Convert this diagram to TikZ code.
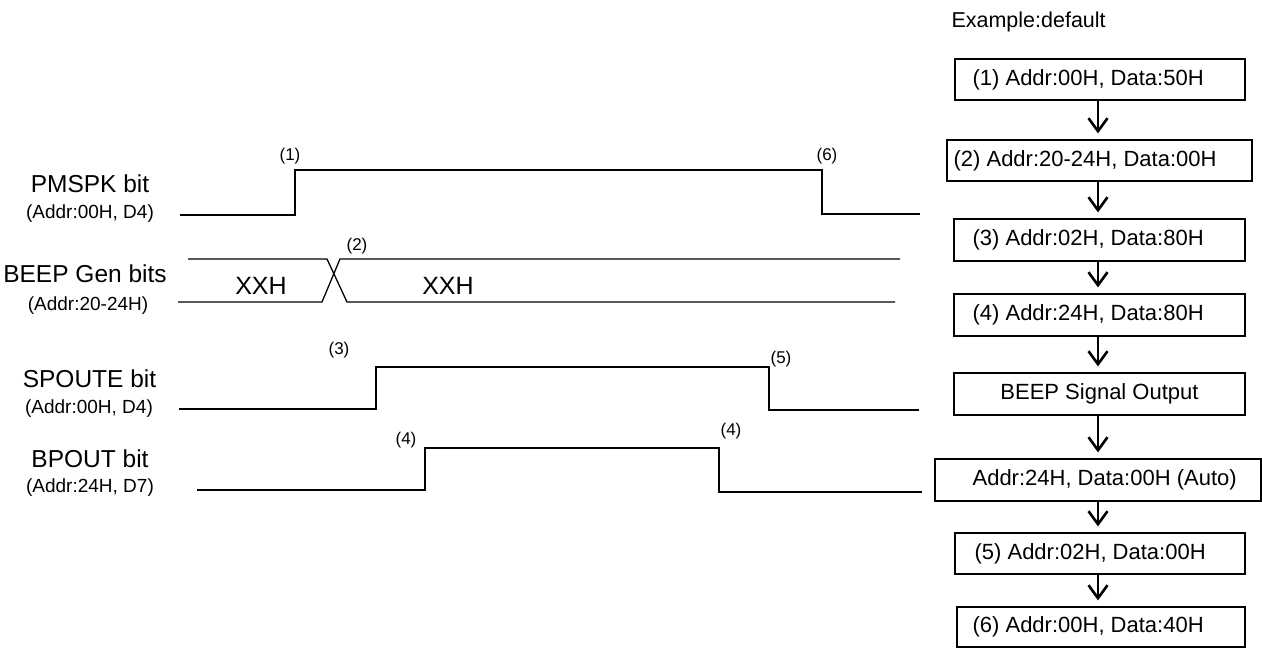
\documentclass[tikz,border=0pt]{standalone}
\usepackage{fontspec}
\setmainfont{Liberation Sans}
\usetikzlibrary{arrows.meta}
\tikzset{
  wire/.style={line width=1.3pt, line join=miter},
  flowbox/.style={draw, line width=1.2pt, rectangle, inner sep=0pt},
  flowarrow/.style={line width=2.6pt, -{Straight Barb[length=13pt,width=19pt]}, shorten >=6pt},
  siglabel/.style={anchor=base, font=\fontsize{24.5}{28}\selectfont},
  sublabel/.style={anchor=base, font=\fontsize{19}{22}\selectfont},
  marklabel/.style={anchor=base, font=\fontsize{17}{20}\selectfont},
  valuelabel/.style={anchor=base, font=\fontsize{25}{28}\selectfont},
  boxtext/.style={anchor=west, inner sep=0pt, font=\fontsize{22}{25}\selectfont},
}
\begin{document}
\begin{tikzpicture}[x=1pt, y=-1pt]
\useasboundingbox (0,0) rectangle (1262,648);

% ---------- signal names ----------
\node[siglabel] (n1) at (90,192) {PMSPK bit};
\node[sublabel] (s1) at (90,218) {(Addr:00H, D4)};
\node[siglabel] (n2) at (85,282) {BEEP Gen bits};
\node[sublabel] (s2) at (88,310) {(Addr:20-24H)};
\node[siglabel] (n3) at (89.5,387) {SPOUTE bit};
\node[sublabel] (s3) at (89,413) {(Addr:00H, D4)};
\node[siglabel] (n4) at (90,467) {BPOUT bit};
\node[sublabel] (s4) at (90,492) {(Addr:24H, D7)};

% ---------- waveforms ----------
\draw[wire] (180,215) -- (295,215) -- (295,170) -- (822,170) -- (822,214) -- (920,214);
\draw[wire] (188,259) -- (327,259) -- (347,302) -- (895,302);
\draw[wire] (178,302) -- (322,302) -- (340,259) -- (900,259);
\draw[wire] (179,409) -- (376,409) -- (376,367) -- (769,367) -- (769,410) -- (919,410);
\draw[wire] (197,490) -- (425,490) -- (425,448) -- (719,448) -- (719,492) -- (922,492);

\node[valuelabel] (v1) at (261,294) {XXH};
\node[valuelabel] (v2) at (448,294) {XXH};

% ---------- step marks ----------
\node[marklabel] (m1) at (290,160) {(1)};
\node[marklabel] (m2) at (357,250) {(2)};
\node[marklabel] (m3) at (339,354) {(3)};
\node[marklabel] (m4a) at (406,444) {(4)};
\node[marklabel] (m4b) at (731,435) {(4)};
\node[marklabel] (m5) at (781,363) {(5)};
\node[marklabel] (m6) at (827,160) {(6)};

% ---------- flow chart ----------
\node[anchor=base west, font=\fontsize{21.5}{24}\selectfont] (ex) at (948,27) {Example:default};

\node[flowbox, minimum width=290pt, minimum height=41pt] (b1) at (1100,79.5) {};
\node[flowbox, minimum width=305pt, minimum height=41pt] (b2) at (1099.5,160.5) {};
\node[flowbox, minimum width=291pt, minimum height=42pt] (b3) at (1099.5,240) {};
\node[flowbox, minimum width=291pt, minimum height=42pt] (b4) at (1099.5,315) {};
\node[flowbox, minimum width=291pt, minimum height=42pt, font=\fontsize{22}{25}\selectfont] (b5) at (1099.5,394) {BEEP Signal Output};
\node[flowbox, minimum width=326pt, minimum height=42pt] (b6) at (1098,480) {};
\node[flowbox, minimum width=290pt, minimum height=41pt] (b7) at (1100,553.5) {};
\node[flowbox, minimum width=288pt, minimum height=40pt] (b8) at (1101,627) {};

\node[boxtext] (t1) at ([xshift=18pt]b1.west) {(1) Addr:00H, Data:50H};
\node[boxtext] (t2) at ([xshift=7pt]b2.west) {(2) Addr:20-24H, Data:00H};
\node[boxtext] (t3) at ([xshift=19pt]b3.west) {(3) Addr:02H, Data:80H};
\node[boxtext] (t4) at ([xshift=19pt]b4.west) {(4) Addr:24H, Data:80H};
\node[boxtext] (t6) at ([xshift=38pt]b6.west) {Addr:24H, Data:00H (Auto)};
\node[boxtext] (t7) at ([xshift=20pt]b7.west) {(5) Addr:02H, Data:00H};
\node[boxtext] (t8) at ([xshift=16pt]b8.west) {(6) Addr:00H, Data:40H};

\draw[flowarrow] (b1.south -| 1098,0) -- (b2.north -| 1098,0);
\draw[flowarrow] (b2.south -| 1098,0) -- (b3.north -| 1098,0);
\draw[flowarrow] (b3.south -| 1098,0) -- (b4.north -| 1098,0);
\draw[flowarrow] (b4.south -| 1098,0) -- (b5.north -| 1098,0);
\draw[flowarrow] (b5.south -| 1098,0) -- (b6.north -| 1098,0);
\draw[flowarrow] (b6.south -| 1098,0) -- (b7.north -| 1098,0);
\draw[flowarrow] (b7.south -| 1098,0) -- (b8.north -| 1098,0);
\end{tikzpicture}
\end{document}
